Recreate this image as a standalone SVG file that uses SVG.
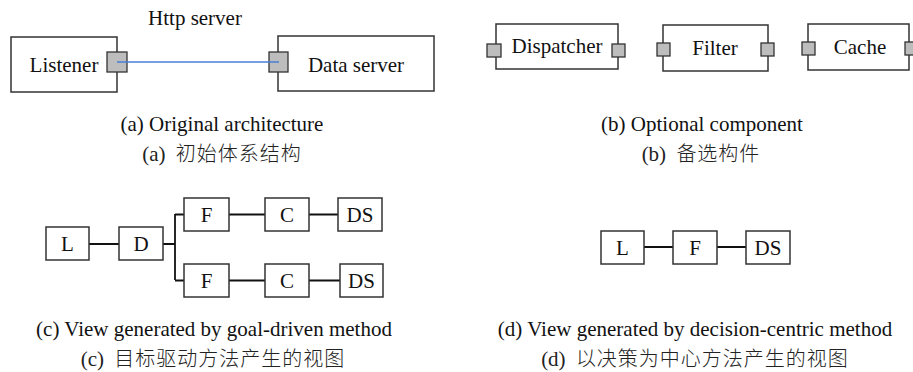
<svg xmlns="http://www.w3.org/2000/svg" width="913" height="372" viewBox="0 0 913 372">
<style>
.box{fill:#fff;stroke:#333;stroke-width:1.5}
.port{fill:#bdbdbd;stroke:#333;stroke-width:1.3}
.t{font-family:"Liberation Serif","DejaVu Serif",serif;font-size:21px;fill:#111;text-anchor:middle}
.cn{font-family:"Liberation Serif","Noto Sans CJK SC",serif;font-size:21px;fill:#222;text-anchor:middle}
.cj{font-family:"Noto Sans CJK SC",sans-serif;font-size:20px;font-weight:300;letter-spacing:1px}
.ln{stroke:#111;stroke-width:1.8;fill:none}
</style>
<rect width="913" height="372" fill="#fff"/>

<!-- (a) -->
<text class="t" x="195" y="25">Http server</text>
<g id="listener">
<rect class="box" x="11" y="37" width="106" height="55"/>
<text class="t" x="64" y="72">Listener</text>
<rect class="port" x="107" y="52" width="20" height="20"/>
</g>
<g id="dataserver">
<rect class="box" x="278" y="36" width="156" height="55"/>
<text class="t" x="356" y="72">Data server</text>
<rect class="port" x="269" y="52" width="19" height="20"/>
</g>
<g id="connectors-a">
<line x1="117" y1="62" x2="279" y2="62" stroke="#4a7fd4" stroke-width="1.3"/>
</g>
<text class="t" x="222" y="131">(a) Original architecture</text>
<text class="cn" x="222" y="161">(a) <tspan class="cj" dx="5">初始体系结构</tspan></text>

<!-- (b) -->
<g id="dispatcher">
<rect class="box" x="496" y="24" width="122" height="45"/>
<text class="t" x="557" y="53">Dispatcher</text>
<rect class="port" x="487" y="44" width="14" height="13"/>
<rect class="port" x="612" y="44" width="13" height="13"/>
</g>
<g id="filter">
<rect class="box" x="663" y="25" width="105" height="46"/>
<text class="t" x="715" y="55">Filter</text>
<rect class="port" x="657" y="43" width="13" height="13"/>
<rect class="port" x="761" y="43" width="13" height="13"/>
</g>
<g id="cache">
<rect class="box" x="808" y="24" width="101" height="46"/>
<text class="t" x="860" y="54">Cache</text>
<rect class="port" x="802" y="42" width="13" height="13"/>
<rect class="port" x="905" y="42" width="13" height="13"/>
</g>
<text class="t" x="702" y="131">(b) Optional component</text>
<text class="cn" x="701" y="161">(b) <tspan class="cj" dx="5">备选构件</tspan></text>

<!-- (c) -->
<g id="connectors-c">
<path class="ln" d="M89 244H119M163 244H175M175 214V280M175 214.5H184M175 280.5H184M229 214.5H265M309 214.5H338M229 280.5H265M309 280.5H340"/>
</g>
<g id="c-L"><rect class="box" x="46" y="227" width="43" height="33"/><text class="t" x="67.5" y="251">L</text></g>
<g id="c-D"><rect class="box" x="119" y="227" width="44" height="33"/><text class="t" x="141" y="251">D</text></g>
<g id="c-F1"><rect class="box" x="184" y="198" width="45" height="33"/><text class="t" x="206.5" y="222">F</text></g>
<g id="c-C1"><rect class="box" x="265" y="198" width="44" height="33"/><text class="t" x="287" y="222">C</text></g>
<g id="c-DS1"><rect class="box" x="338" y="198" width="44" height="33"/><text class="t" x="360" y="222">DS</text></g>
<g id="c-F2"><rect class="box" x="184" y="264" width="45" height="33"/><text class="t" x="206.5" y="288">F</text></g>
<g id="c-C2"><rect class="box" x="265" y="264" width="44" height="33"/><text class="t" x="287" y="288">C</text></g>
<g id="c-DS2"><rect class="box" x="340" y="264" width="43" height="33"/><text class="t" x="361.5" y="288">DS</text></g>
<text class="t" x="214" y="336">(c) View generated by goal-driven method</text>
<text class="cn" x="213" y="366">(c) <tspan class="cj" dx="5">目标驱动方法产生的视图</tspan></text>

<!-- (d) -->
<g id="connectors-d">
<path class="ln" d="M644 247H673M717 247H746"/>
</g>
<g id="d-L"><rect class="box" x="601" y="231" width="43" height="33"/><text class="t" x="622.5" y="255">L</text></g>
<g id="d-F"><rect class="box" x="673" y="231" width="44" height="33"/><text class="t" x="695" y="255">F</text></g>
<g id="d-DS"><rect class="box" x="746" y="231" width="44" height="33"/><text class="t" x="768" y="255">DS</text></g>
<text class="t" x="695" y="336">(d) View generated by decision-centric method</text>
<text class="cn" x="695" y="366">(d) <tspan class="cj" dx="5">以决策为中心方法产生的视图</tspan></text>
</svg>
